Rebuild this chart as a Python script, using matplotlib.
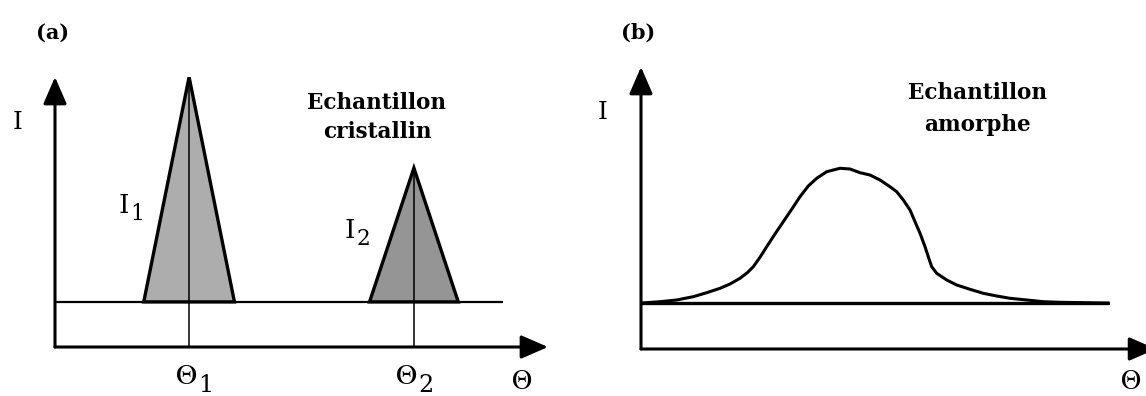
import matplotlib
matplotlib.use("Agg")
import matplotlib.pyplot as plt
from matplotlib.patches import Polygon

plt.rcParams['font.family'] = ['DejaVu Serif']
plt.rcParams['mathtext.fontset'] = 'stix'

# ---- data: panel (a), crystalline sample ----
peak_theta = [2.72, 7.28]        # Θ1, Θ2
peak_height = [10.0, 6.63]       # I1, I2
peak_halfwidth = [0.92, 0.90]
peak_fill = ['#adadad', '#959595']
peak_subs = ['1', '2']
baseline_a = 1.67
baseline_a_end = 9.09

# ---- data: panel (b), amorphous sample ----
curve_theta = [0.0, 0.373, 0.700, 1.025, 1.288, 1.549, 1.745, 1.941, 2.084,
               2.202, 2.333, 2.465, 2.627, 2.790, 2.955, 3.118, 3.280, 3.445,
               3.641, 3.902, 4.098, 4.294, 4.490, 4.686, 4.882, 5.014, 5.143,
               5.275, 5.373, 5.471, 5.569, 5.633, 5.700, 5.798, 5.994, 6.190,
               6.451, 6.712, 6.975, 7.235, 7.563, 7.888, 8.216, 9.16]
curve_I = [1.63, 1.677, 1.738, 1.855, 1.996, 2.152, 2.305, 2.507, 2.706,
           2.918, 3.252, 3.628, 4.078, 4.514, 4.954, 5.401, 5.780, 6.053,
           6.287, 6.408, 6.383, 6.252, 6.170, 5.993, 5.755, 5.578, 5.284,
           4.929, 4.514, 4.103, 3.628, 3.273, 2.918, 2.684, 2.447, 2.270,
           2.117, 1.975, 1.879, 1.798, 1.738, 1.677, 1.656, 1.63]
baseline_b = 1.63
baseline_b_end = 9.16

W, H = 1146, 396
fig = plt.figure(figsize=(W / 100, H / 100), dpi=100)
fig.patch.set_facecolor('white')

SERIF = ['DejaVu Serif']
GREEK = ['STIXGeneral', 'DejaVu Serif']


def make_axes(x0, x1, ytop, ybot):
    ax = fig.add_axes([x0 / W, 1 - ybot / H, (x1 - x0) / W, (ybot - ytop) / H])
    ax.set_xlim(0, 10)
    ax.set_ylim(0, 10)
    ax.axis('off')
    return ax


def axis_arrow(ax, start, end):
    ax.annotate('', xy=end, xytext=start, annotation_clip=False,
                arrowprops=dict(arrowstyle='-|>,head_length=0.46,head_width=0.2',
                                mutation_scale=36, lw=2.2, color='black',
                                shrinkA=0, shrinkB=0))


def sub_label(ax, x, y, base, sub, size, family, drop):
    ax.text(x, y, base, fontsize=size, family=family, ha='right', va='center',
            clip_on=False)
    ax.annotate(sub, xy=(x, y), xytext=(1.0, -drop), textcoords='offset points',
                fontsize=size * 0.82, family=['DejaVu Serif'], ha='left',
                va='center', annotation_clip=False)


txt = dict(clip_on=False, ha='center', va='center', color='black')

# ================= panel (a) =================
axa = make_axes(55, 548, 77, 347)
axis_arrow(axa, (0, 0), (0, 10))
axis_arrow(axa, (0, 0), (10, 0))
axa.plot([0, baseline_a_end], [baseline_a, baseline_a], color='black', lw=1.6,
         solid_capstyle='butt')
for th, h, hw, fc in zip(peak_theta, peak_height, peak_halfwidth, peak_fill):
    tri = Polygon([(th - hw, baseline_a), (th, h), (th + hw, baseline_a)],
                  closed=True, facecolor=fc, edgecolor='black', lw=2.4,
                  joinstyle='miter')
    axa.add_patch(tri)
    axa.plot([th, th], [0, h], color='black', lw=1.1)

axa.text(-0.04, 11.63, '(a)', fontsize=15, fontweight='bold', **txt)
axa.text(-0.75, 8.33, 'I', fontsize=18, **txt)
sub_label(axa, 1.50, 5.25, 'I', peak_subs[0], 19, SERIF, 6)
sub_label(axa, 6.09, 4.30, 'I', peak_subs[1], 19, SERIF, 6)
sub_label(axa, 2.88, -1.11, 'Θ', peak_subs[0], 21, GREEK, 6)
sub_label(axa, 7.34, -1.11, 'Θ', peak_subs[1], 21, GREEK, 6)
axa.text(9.47, -1.33, 'Θ', fontsize=20, family=GREEK, **txt)
axa.text(6.53, 9.04, 'Echantillon', fontsize=15.5, fontweight='bold', **txt)
axa.text(6.53, 7.96, 'cristallin', fontsize=15.5, fontweight='bold', **txt)

# ================= panel (b) =================
axb = make_axes(641, 1151, 67, 349)
axis_arrow(axb, (0, 0), (0, 10))
axis_arrow(axb, (0, 0), (10.1, 0))
axb.plot([0, baseline_b_end], [baseline_b, baseline_b], color='black', lw=2.4,
         solid_capstyle='round')
axb.plot(curve_theta, curve_I, color='black', lw=2.2, solid_joinstyle='round')

axb.text(-0.06, 11.2, '(b)', fontsize=15, fontweight='bold', **txt)
axb.text(-0.76, 8.37, 'I', fontsize=18, **txt)
axb.text(9.61, -1.2, 'Θ', fontsize=20, family=GREEK, **txt)
axb.text(6.59, 9.08, 'Echantillon', fontsize=15.5, fontweight='bold', **txt)
axb.text(6.59, 7.94, 'amorphe', fontsize=15.5, fontweight='bold', **txt)

fig.savefig('out.png', dpi=100, facecolor='white')
